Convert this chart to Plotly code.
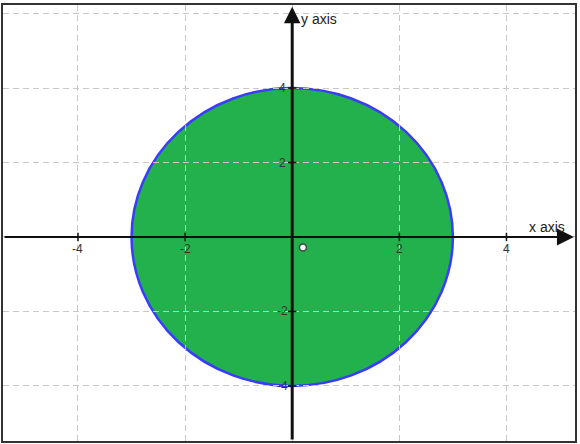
import plotly.graph_objects as go

# ---- data ----
x_ticks = [-4, -2, 2, 4]
x_tick_labels = ["-4", "-2", "2", "4"]
y_ticks = [-4, -2, 2, 4]
y_tick_labels = ["-4", "-2", "2", "4"]
ellipse_center = [0, 0]
ellipse_semi_axes = [3, 4]
point_x = [0.2]
point_y = [-0.28]
x_range = [-5.4, 5.28]
y_range = [-5.48, 6.23]

fig = go.Figure()

cx, cy = ellipse_center
a, b = ellipse_semi_axes
fig.add_shape(type="circle", xref="x", yref="y",
              x0=cx - a, x1=cx + a, y0=cy - b, y1=cy + b,
              fillcolor="#22b14c", line=dict(color="#3b3bff", width=2.5),
              layer="below")

# tick marks
fig.add_trace(go.Scatter(x=x_ticks, y=[0] * len(x_ticks), mode="markers",
                         marker=dict(symbol="line-ns", size=6,
                                     line=dict(color="#111", width=1.5)),
                         hoverinfo="skip", showlegend=False))
fig.add_trace(go.Scatter(x=[0] * len(y_ticks), y=y_ticks, mode="markers",
                         marker=dict(symbol="line-ew", size=6,
                                     line=dict(color="#111", width=1.5)),
                         hoverinfo="skip", showlegend=False))
# point
fig.add_trace(go.Scatter(x=point_x, y=point_y, mode="markers",
                         marker=dict(symbol="circle", size=7, color="white",
                                     line=dict(color="#444", width=1.5)),
                         hoverinfo="skip", showlegend=False))

annotations = []
# axis arrows
annotations.append(dict(x=x_range[1] - 0.02, y=0, ax=x_range[0], ay=0,
                        xref="x", yref="y", axref="x", ayref="y",
                        showarrow=True, arrowhead=2, arrowsize=1.7,
                        arrowwidth=2, arrowcolor="#111", text=""))
annotations.append(dict(x=0, y=y_range[1] - 0.05, ax=0, ay=y_range[0],
                        xref="x", yref="y", axref="x", ayref="y",
                        showarrow=True, arrowhead=2, arrowsize=1.1,
                        arrowwidth=3, arrowcolor="#111", text=""))
for t, lab in zip(x_ticks, x_tick_labels):
    annotations.append(dict(x=t, y=0, xref="x", yref="y", text=lab,
                            showarrow=False, yshift=-12,
                            font=dict(size=12, color="#333")))
for t, lab in zip(y_ticks, y_tick_labels):
    annotations.append(dict(x=0, y=t, xref="x", yref="y", text=lab,
                            showarrow=False, xshift=-10,
                            font=dict(size=12, color="#333")))
annotations.append(dict(x=4.75, y=0, xref="x", yref="y", text="x axis",
                        showarrow=False, yshift=10, xanchor="center",
                        font=dict(size=14, color="#222")))
annotations.append(dict(x=0.12, y=y_range[1], xref="x", yref="y", text="y axis",
                        showarrow=False, yshift=-14, xanchor="left",
                        font=dict(size=14, color="#222")))

grid = dict(showgrid=True, gridcolor="#c8c8c8", gridwidth=1,
            griddash="6px,4px", zeroline=False, showticklabels=False,
            ticks="", dtick=2, tick0=0, showline=True, mirror=True,
            linecolor="#333", linewidth=1.5)
fig.update_xaxes(range=x_range, **grid)
fig.update_yaxes(range=y_range, **grid)

fig.update_layout(width=580, height=444,
                  margin=dict(l=3, r=3, t=3, b=3),
                  paper_bgcolor="white", plot_bgcolor="white",
                  font=dict(family="Liberation Sans, Arial, sans-serif"),
                  annotations=annotations, showlegend=False)

fig.write_html("out.html", config={"displayModeBar": False},
               post_script="document.body.style.margin='0';document.body.style.overflow='hidden';")
